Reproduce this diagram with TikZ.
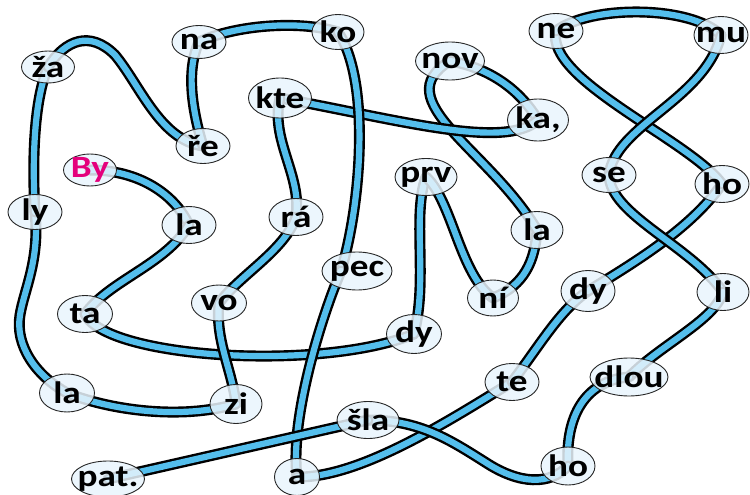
\documentclass[tikz,border=0pt]{standalone}
\usepackage{fontspec}
\newfontfamily\sylfont{Carlito Bold}[FakeStretch=1.2]
\usetikzlibrary{shapes.geometric}
\definecolor{tubeblue}{RGB}{84,190,236}
\definecolor{ellfill}{RGB}{233,245,253}
\definecolor{magtext}{RGB}{228,0,124}
\pgfdeclarelayer{background}
\pgfsetlayers{background,main}
\tikzset{
  syl/.style={ellipse, draw=black!85, line width=0.9pt, fill=ellfill, fill opacity=0.85, text opacity=1,
    font=\sylfont\fontsize{31}{33}\selectfont, inner xsep=-10pt, inner ysep=-6pt,
    minimum width=54pt, minimum height=37pt},
  tube/.style={draw=black, line width=2.4pt, double=tubeblue, double distance=6.2pt, line cap=round}
}
\begin{document}
\begin{tikzpicture}[x=1pt,y=-1pt]
\useasboundingbox (0,0) rectangle (750,495);
% nodes
\node[syl, minimum width=53pt, minimum height=32pt] (by) at (90,170) {\textcolor{magtext}{By}};
\node[syl] (la1) at (189,225) {la};
\node[syl, minimum width=55pt] (ta) at (85,314) {ta};
\node[syl, minimum width=55pt, minimum height=39pt] (dy1) at (414,334) {dy};
\node[syl, minimum width=62pt] (prv) at (426,177) {prv};
\node[syl, minimum width=51pt, minimum height=36pt] (ni) at (493,298) {ní};
\node[syl, minimum width=52pt] (la2) at (537,230) {la};
\node[syl, minimum width=69pt, minimum height=38pt] (nov) at (450,61) {nov};
\node[syl, minimum width=61pt, minimum height=42pt] (ka) at (538,120) {ka,};
\node[syl, minimum width=63pt, minimum height=40pt] (kte) at (280,98) {kte};
\node[syl] (ra) at (296,217) {rá};
\node[syl, minimum width=55pt, minimum height=36pt] (vo) at (219,303) {vo};
\node[syl, minimum width=52pt, minimum height=39pt] (zi) at (236,404) {zi};
\node[syl, minimum width=55pt, minimum height=38pt] (la3) at (67,393) {la};
\node[syl, minimum height=35pt] (ly) at (35,212) {ly};
\node[syl, minimum width=53pt, minimum height=32pt] (za) at (48,67) {ža};
\node[syl, minimum height=35pt] (re) at (203,146) {ře};
\node[syl, minimum height=33pt] (na) at (199,42) {na};
\node[syl, minimum width=52pt, minimum height=35pt] (ko) at (338,32) {ko};
\node[syl, minimum width=70pt, minimum height=38pt] (pec) at (357,271) {pec};
\node[syl, minimum width=45pt] (a) at (297,477) {a};
\node[syl] (te) at (512,382) {te};
\node[syl, minimum height=41pt] (dy2) at (588,291) {dy};
\node[syl] (hoA) at (722,184) {ho};
\node[syl, minimum height=35pt] (ne) at (556,31) {ne};
\node[syl] (mu) at (721,35) {mu};
\node[syl, minimum height=35pt] (se) at (609,175) {se};
\node[syl, minimum width=52pt] (li) at (723,292) {li};
\node[syl, minimum width=78pt, minimum height=38pt] (dlou) at (629,377) {dlou};
\node[syl, minimum height=38pt] (hoB) at (568,466) {ho};
\node[syl, minimum width=62pt] (sla) at (368,420) {šla};
\node[syl, minimum width=73pt, minimum height=36pt] (pat) at (108,479) {pat.};
% tubes
\begin{pgfonlayer}{background}
\draw[tube] (by.center) .. controls (140,170) and (175,195) .. (la1.center);
\draw[tube] (la1.center) .. controls (165,265) and (110,280) .. (ta.center);
\draw[tube] (ta.center) .. controls (105,358) and (320,372) .. (dy1.center);
\draw[tube] (dy1.center) .. controls (428,280) and (412,215) .. (prv.center);
\draw[tube] (prv.center) .. controls (452,200) and (460,275) .. (ni.center);
\draw[tube] (ni.center) .. controls (525,285) and (535,260) .. (la2.center);
\draw[tube] (la2.center) .. controls (490,150) and (385,100) .. (nov.center);
\draw[tube] (nov.center) .. controls (490,68) and (520,90) .. (ka.center);
\draw[tube] (ka.center) .. controls (505,150) and (400,120) .. (kte.center);
\draw[tube] (kte.center) .. controls (270,140) and (302,175) .. (ra.center);
\draw[tube] (ra.center) .. controls (285,250) and (240,275) .. (vo.center);
\draw[tube] (vo.center) .. controls (215,340) and (232,370) .. (zi.center);
\draw[tube] (zi.center) .. controls (180,420) and (110,410) .. (la3.center);
\draw[tube] (la3.center) .. controls (35,375) and (15,345) .. (20,315) .. controls (24,290) and (40,260) .. (ly.center);
\draw[tube] (ly.center) .. controls (32,160) and (34,100) .. (za.center);
\draw[tube] (za.center) .. controls (65,40) and (90,30) .. (115,55) .. controls (140,85) and (160,140) .. (re.center);
\draw[tube] (re.center) .. controls (192,110) and (186,70) .. (na.center);
\draw[tube] (na.center) .. controls (235,25) and (300,20) .. (ko.center);
\draw[tube] (ko.center) .. controls (370,80) and (362,200) .. ([xshift=-16pt]pec.center);
\draw[tube] ([xshift=-16pt]pec.center) .. controls (320,320) and (290,420) .. (a.center);
\draw[tube] (a.center) .. controls (360,478) and (450,420) .. (te.center);
\draw[tube] (te.center) .. controls (540,345) and (560,310) .. (dy2.center);
\draw[tube] (dy2.center) .. controls (630,265) and (690,230) .. (hoA.center);
\draw[tube] (hoA.center) .. controls (690,140) and (545,80) .. (ne.center);
\draw[tube] (ne.center) .. controls (590,5) and (690,5) .. (mu.center);
\draw[tube] (mu.center) .. controls (705,100) and (615,125) .. (se.center);
\draw[tube] (se.center) .. controls (610,215) and (690,245) .. (li.center);
\draw[tube] (li.center) .. controls (715,320) and (660,345) .. (dlou.center);
\draw[tube] (dlou.center) .. controls (590,380) and (565,410) .. (hoB.center);
\draw[tube] (hoB.center) .. controls (550,485) and (520,485) .. (485,462) .. controls (450,440) and (420,420) .. (sla.center);
\draw[tube] (sla.center) -- (pat.center);
\end{pgfonlayer}
\end{tikzpicture}
\end{document}
